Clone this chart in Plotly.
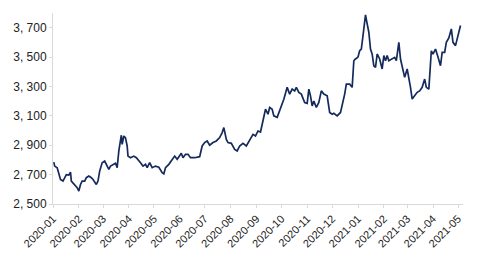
import plotly.graph_objects as go

dates = [
    "2020-01-02","2020-01-03","2020-01-06","2020-01-08","2020-01-10","2020-01-13","2020-01-15","2020-01-17",
    "2020-01-20","2020-01-22","2020-01-23","2020-01-27","2020-01-30","2020-02-01","2020-02-03","2020-02-05",
    "2020-02-08","2020-02-10","2020-02-13","2020-02-16","2020-02-18","2020-02-22","2020-02-24","2020-02-26",
    "2020-02-29","2020-03-03","2020-03-05","2020-03-08","2020-03-10","2020-03-13","2020-03-16","2020-03-18",
    "2020-03-20","2020-03-23","2020-03-24","2020-03-26","2020-03-28","2020-03-30","2020-03-31","2020-04-03",
    "2020-04-07","2020-04-10","2020-04-12","2020-04-15","2020-04-18","2020-04-21","2020-04-23","2020-04-26",
    "2020-04-29","2020-05-03","2020-05-07","2020-05-11","2020-05-13","2020-05-15","2020-05-19","2020-05-23",
    "2020-05-26","2020-05-29","2020-06-03","2020-06-05","2020-06-08","2020-06-11","2020-06-14","2020-06-19",
    "2020-06-25","2020-06-28","2020-07-01","2020-07-04","2020-07-07","2020-07-11","2020-07-15","2020-07-19",
    "2020-07-22","2020-07-24","2020-07-27","2020-07-29","2020-08-02","2020-08-06","2020-08-09","2020-08-12",
    "2020-08-16","2020-08-20","2020-08-24","2020-08-28","2020-08-31","2020-09-03","2020-09-06","2020-09-09",
    "2020-09-12","2020-09-15","2020-09-17","2020-09-20","2020-09-22","2020-09-26","2020-09-30","2020-10-04",
    "2020-10-08","2020-10-11","2020-10-14","2020-10-17","2020-10-19","2020-10-22","2020-10-25","2020-10-29",
    "2020-11-01","2020-11-03","2020-11-05","2020-11-07","2020-11-09","2020-11-12","2020-11-15","2020-11-18",
    "2020-11-21","2020-11-25","2020-11-28","2020-12-01","2020-12-03","2020-12-07","2020-12-11","2020-12-13",
    "2020-12-16","2020-12-18","2020-12-22","2020-12-25","2020-12-27","2020-12-29","2021-01-01","2021-01-03",
    "2021-01-05","2021-01-07","2021-01-10","2021-01-12","2021-01-14","2021-01-16","2021-01-18","2021-01-20",
    "2021-01-22","2021-01-24","2021-01-27","2021-01-30","2021-02-01","2021-02-03","2021-02-05","2021-02-07",
    "2021-02-11","2021-02-14","2021-02-16","2021-02-19","2021-02-21","2021-02-23","2021-02-26","2021-03-01",
    "2021-03-03","2021-03-05","2021-03-07","2021-03-10","2021-03-13","2021-03-16","2021-03-19","2021-03-22",
    "2021-03-24","2021-03-27","2021-03-30","2021-04-01","2021-04-04","2021-04-07","2021-04-10","2021-04-12",
    "2021-04-15","2021-04-17","2021-04-20","2021-04-23","2021-04-25","2021-04-28","2021-04-30","2021-05-02",
    "2021-05-04",
]

values = [
    2785,2758,2747,2713,2667,2656,2679,2700,
    2697,2717,2656,2633,2611,2588,2633,2656,
    2656,2679,2690,2679,2667,2633,2656,2724,
    2781,2792,2770,2736,2758,2765,2777,2747,
    2861,2968,2906,2963,2950,2895,2826,2815,
    2826,2815,2804,2781,2758,2770,2747,2781,
    2747,2758,2750,2713,2705,2747,2770,2804,
    2826,2804,2845,2815,2838,2838,2815,2815,
    2822,2895,2918,2929,2900,2918,2929,2952,
    2986,3020,2940,2918,2913,2872,2861,2895,
    2913,2895,2940,2974,2963,2997,2990,3065,
    3145,3111,3157,3145,3100,3090,3145,3213,
    3294,3248,3282,3270,3294,3260,3248,3191,
    3185,3282,3236,3168,3200,3157,3191,3270,
    3248,3236,3123,3111,3117,3100,3123,3168,
    3248,3316,3316,3294,3475,3487,3500,3543,
    3555,3646,3787,3726,3669,3555,3520,3441,
    3430,3521,3487,3419,3510,3475,3510,3475,
    3487,3498,3475,3600,3487,3441,3362,3419,
    3362,3294,3214,3236,3260,3270,3294,3350,
    3294,3282,3543,3520,3555,3500,3441,3532,
    3532,3600,3630,3692,3600,3578,3620,3669,
    3715,
]

y_ticks = [2500, 2700, 2900, 3100, 3300, 3500, 3700]
y_tick_labels = ["2, 500", "2, 700", "2, 900", "3, 100", "3, 300", "3, 500", "3, 700"]

fig = go.Figure()
fig.add_trace(go.Scatter(
    x=dates, y=values, mode="lines",
    line=dict(color="#142a5c", width=1.7),
    showlegend=False,
))

axis_color = "#d9d9d9"
font = dict(family="Liberation Sans, Arial, sans-serif", size=12, color="#222222")

fig.update_layout(
    width=481, height=261,
    margin=dict(l=53, r=18, t=13, b=57),
    paper_bgcolor="white", plot_bgcolor="white",
    font=font,
)
fig.update_xaxes(
    type="date",
    range=["2020-01-01", "2021-05-07"],
    dtick="M1", tick0="2020-01-01", tickformat="%Y-%m",
    tickangle=-45,
    showgrid=False, showline=True, linecolor=axis_color, linewidth=1,
    ticks="outside", ticklen=3, tickcolor=axis_color,
    tickfont=dict(size=11),
)
fig.update_yaxes(
    range=[2500, 3800],
    tickvals=y_ticks, ticktext=y_tick_labels,
    showgrid=False, showline=True, linecolor=axis_color, linewidth=1,
    ticks="outside", ticklen=3, tickcolor=axis_color,
    zeroline=False,
    tickfont=dict(size=12),
)

fig.write_html("out.html")
